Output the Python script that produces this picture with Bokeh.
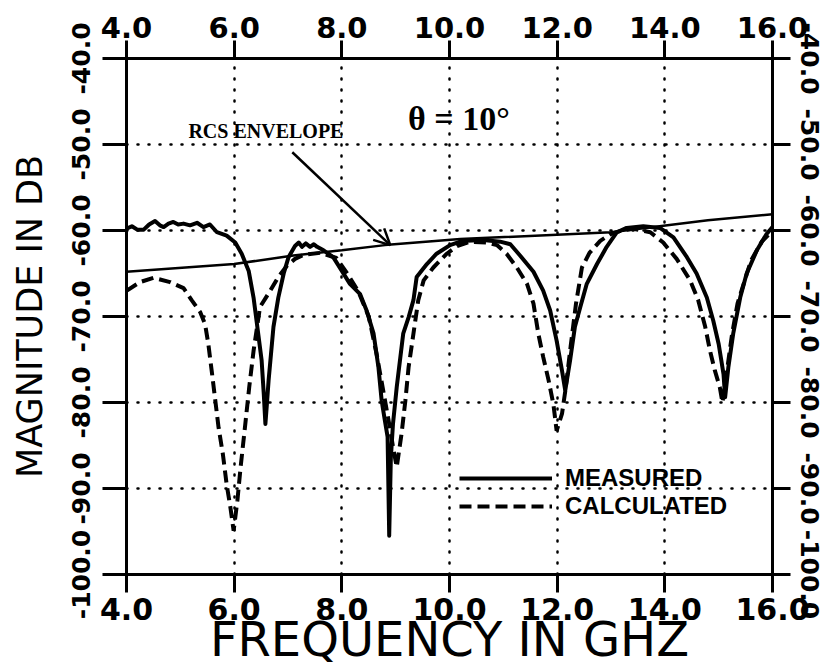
from bokeh.plotting import figure
from bokeh.models import (LinearAxis, FixedTicker, NumeralTickFormatter, Range1d,
                          Label, Arrow, OpenHead, Legend, LegendItem)
from bokeh.embed import file_html
from bokeh.resources import INLINE

# ---------------- data ----------------
x_ticks = [4, 6, 8, 10, 12, 14, 16]
y_ticks = [-100, -90, -80, -70, -60, -50, -40]
grid_x = [6, 8, 10, 12, 14]
grid_y = [-90, -80, -70, -60, -50]

measured_freq = [4.0, 4.1, 4.2, 4.32, 4.42, 4.53, 4.62, 4.69, 4.78, 4.87,
                 4.96, 5.06, 5.18, 5.31, 5.43, 5.55, 5.68, 5.86, 6.02, 6.14,
                 6.27, 6.36, 6.43, 6.51, 6.55, 6.58, 6.61, 6.64, 6.73, 6.82,
                 6.92, 7.01, 7.13, 7.2, 7.26, 7.33, 7.41, 7.48, 7.54, 7.66,
                 7.84, 8.0, 8.15, 8.34, 8.46, 8.59, 8.68, 8.74, 8.80, 8.85,
                 8.88, 8.91, 8.95, 9.02, 9.14, 9.24, 9.33, 9.39, 9.58, 9.76,
                 10.01, 10.2, 10.32, 10.63, 10.94, 11.13, 11.31, 11.56, 11.74, 11.87,
                 11.99, 12.09, 12.15, 12.24, 12.33, 12.43, 12.55, 12.74, 12.92, 13.11,
                 13.29, 13.6, 13.91, 14.16, 14.41, 14.59, 14.78, 14.9, 15.0, 15.09,
                 15.12, 15.18, 15.27, 15.4, 15.52, 15.71, 15.89, 16.0]
measured_db = [-59.8, -59.5, -59.9, -59.9, -59.3, -58.9, -59.4, -59.6, -59.2, -59.0,
               -59.3, -59.2, -59.4, -59.1, -59.6, -59.3, -60.2, -60.6, -61.4, -62.7,
               -64.7, -67.8, -71.2, -75.1, -79.0, -82.5, -80.0, -77.4, -71.2, -67.8,
               -65.0, -63.1, -61.8, -61.4, -61.9, -61.5, -61.9, -61.6, -61.9, -62.3,
               -63.1, -64.7, -66.2, -67.4, -69.3, -72.0, -75.9, -79.8, -82.1, -84.0,
               -95.5, -86.5, -82.5, -78.2, -72.0, -70.1, -68.1, -65.4, -63.9, -62.7,
               -61.7, -61.3, -61.2, -61.1, -61.3, -61.6, -62.9, -64.8, -67.0, -69.3,
               -72.8, -76.3, -78.6, -75.1, -71.2, -68.9, -66.2, -63.9, -61.9, -60.2,
               -59.7, -59.5, -59.7, -60.8, -63.1, -65.0, -67.8, -70.5, -73.2, -76.7,
               -79.4, -75.9, -72.0, -67.8, -65.0, -62.3, -60.4, -59.6]

calc_freq = [4.0, 4.25, 4.5, 4.81, 5.06, 5.21, 5.37, 5.46, 5.52, 5.59,
             5.65, 5.71, 5.79, 5.86, 5.93, 5.99, 6.06, 6.12, 6.2, 6.28,
             6.36, 6.48, 6.67, 6.82, 6.98, 7.13, 7.3, 7.6, 7.9, 8.1,
             8.3, 8.5, 8.65, 8.78, 8.88, 8.96, 9.02, 9.11, 9.18, 9.24,
             9.33, 9.42, 9.52, 9.7, 9.95, 10.14, 10.38, 10.69, 10.88, 11.06,
             11.25, 11.44, 11.56, 11.65, 11.74, 11.84, 11.93, 11.99, 12.09, 12.15,
             12.25, 12.35, 12.46, 12.6, 12.8, 13.0, 13.2, 13.41, 13.73, 13.97,
             14.22, 14.47, 14.62, 14.75, 14.84, 14.93, 15.02, 15.07, 15.15, 15.25,
             15.35, 15.46, 15.6, 15.8, 16.0]
calc_db = [-67.0, -66.0, -65.5, -66.0, -66.7, -68.1, -69.5, -70.9, -73.2, -76.7,
           -79.8, -82.9, -86.0, -89.5, -92.2, -94.9, -91.4, -87.5, -82.9, -78.2,
           -74.0, -68.9, -67.0, -65.4, -64.1, -63.3, -62.8, -62.6, -63.2, -65.0,
           -67.0, -70.0, -74.5, -79.0, -82.5, -85.5, -87.5, -83.6, -79.8, -75.9,
           -72.0, -68.1, -65.8, -64.3, -62.7, -61.8, -61.3, -61.4, -61.7, -62.7,
           -64.3, -66.2, -68.5, -72.0, -74.7, -77.4, -80.2, -83.3, -81.3, -78.7,
           -73.5, -68.5, -64.3, -62.6, -61.2, -60.4, -60.0, -59.8, -60.2, -61.4,
           -63.3, -65.8, -68.1, -71.2, -74.0, -76.3, -78.2, -80.0, -76.5, -72.0,
           -68.5, -66.3, -63.5, -61.3, -60.0]

envelope_freq = [4.0, 6.0, 7.1, 8.0, 8.8, 10.2, 13.0, 14.8, 16.0]
envelope_db = [-64.8, -63.9, -62.9, -62.3, -61.7, -61.0, -60.2, -58.8, -58.1]

# annotation anchors (data units)
arrow_from = (7.08, -50.9)
arrow_to = (8.90, -61.7)
rcs_pos = (5.15, -48.4)
theta_pos = (9.23, -47.0)

# ---------------- figure ----------------
p = figure(width=824, height=669, x_range=Range1d(4, 16), y_range=Range1d(-100, -40),
           output_backend="svg", toolbar_location=None,
           min_border_left=126, min_border_right=52, min_border_top=58, min_border_bottom=95,
           background_fill_color="white", border_fill_color="white")
p.outline_line_color = "black"
p.outline_line_width = 3

fmt = NumeralTickFormatter(format="0.0")

def style_axis(ax, ticks, size, tick_out, standoff, orientation=None):
    ax.ticker = FixedTicker(ticks=ticks)
    ax.formatter = fmt
    ax.axis_line_width = 3
    ax.axis_line_color = "black"
    ax.major_tick_line_width = 3
    ax.major_tick_line_color = "black"
    ax.major_tick_out = tick_out
    ax.major_tick_in = 0
    ax.minor_tick_out = 0
    ax.minor_tick_in = 0
    ax.major_label_text_font = "DejaVu Sans"
    ax.major_label_text_font_style = "bold"
    ax.major_label_text_font_size = size
    ax.major_label_text_color = "black"
    ax.major_label_standoff = standoff
    if orientation is not None:
        ax.major_label_orientation = orientation

xb = p.xaxis[0]
style_axis(xb, x_ticks, "30px", 18, 5)
xb.axis_label = "FREQUENCY IN GHZ"
xb.axis_label_text_font = "DejaVu Sans"
xb.axis_label_text_font_style = "normal"
xb.axis_label_text_font_size = "48px"
xb.axis_label_text_color = "black"
xb.axis_label_standoff = -12

yl = p.yaxis[0]
style_axis(yl, y_ticks, "25px", 24, 13, "vertical")
yl.axis_label = "MAGNITUDE IN DB"
yl.axis_label_text_font = "DejaVu Sans"
yl.axis_label_text_font_style = "normal"
yl.axis_label_text_font_size = "35px"
yl.axis_label_text_color = "black"
yl.axis_label_standoff = 19

top = LinearAxis()
style_axis(top, x_ticks, "29px", 18, 3)
p.add_layout(top, "above")
right = LinearAxis()
style_axis(right, y_ticks, "25px", 18, 10, "vertical")
p.add_layout(right, "right")

p.xgrid.ticker = FixedTicker(ticks=grid_x)
p.ygrid.ticker = FixedTicker(ticks=grid_y)
for g in (p.xgrid[0], p.ygrid[0]):
    g.grid_line_color = "black"
    g.grid_line_width = 2.5
    g.grid_line_dash = "1 10"
    g.grid_line_cap = "round"

# curves
p.line(envelope_freq, envelope_db, line_color="black", line_width=2.5)
r_meas = p.line(measured_freq, measured_db, line_color="black", line_width=4,
                line_join="round")
r_calc = p.line(calc_freq, calc_db, line_color="black", line_width=4,
                line_dash="12 6")

# annotations
p.add_layout(Arrow(end=OpenHead(size=16, line_width=2.5, line_color="black"),
                   x_start=arrow_from[0], y_start=arrow_from[1],
                   x_end=arrow_to[0], y_end=arrow_to[1],
                   line_width=2.5, line_color="black"))
p.add_layout(Label(x=rcs_pos[0], y=rcs_pos[1], text="RCS ENVELOPE",
                   text_font="Liberation Serif", text_font_style="bold",
                   text_font_size="20px", text_color="black",
                   text_baseline="middle", text_align="left"))
p.add_layout(Label(x=theta_pos[0], y=theta_pos[1], text="θ = 10°",
                   text_font="Liberation Serif", text_font_style="bold",
                   text_font_size="34px", text_color="black",
                   text_baseline="middle", text_align="left"))

legend = Legend(items=[LegendItem(label="MEASURED", renderers=[r_meas]),
                       LegendItem(label="CALCULATED", renderers=[r_calc])],
                location=(333, 54), glyph_width=93, glyph_height=28, label_height=28,
                label_standoff=13, padding=0, margin=0, spacing=0,
                border_line_color=None, background_fill_alpha=0,
                label_text_font="Liberation Sans", label_text_font_style="bold",
                label_text_font_size="24px", label_text_color="black")
p.add_layout(legend, "center")

open("out.html", "w").write(file_html(p, INLINE))
